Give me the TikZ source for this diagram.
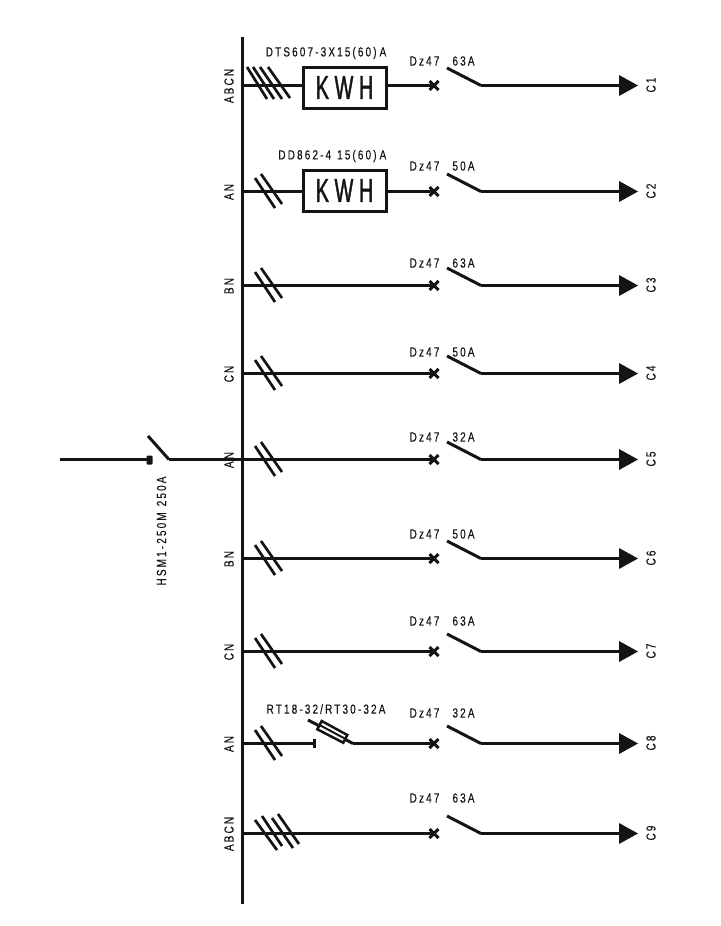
\documentclass[tikz,border=0pt]{standalone}
\usepackage{fontspec}
\setmainfont{Liberation Sans}[FakeStretch=0.76,LetterSpace=16,FakeBold=0.25]
\newfontfamily\kwhfont{Liberation Sans}[FakeStretch=0.6,LetterSpace=17,FakeBold=1.2]
\definecolor{ink}{HTML}{141414}
\tikzset{
  wire/.style={draw=ink,line width=3pt},
  slash/.style={draw=ink,line width=2.7pt},
  lbl/.style={text=ink,inner sep=0pt,font=\fontsize{13.2}{15}\selectfont},
  vlbl/.style={lbl,rotate=90},
  meter/.style={draw=ink,line width=3pt,fill=white,minimum width=83pt,minimum height=41pt,inner sep=0pt,text=ink,font=\kwhfont\fontsize{33}{35}\selectfont},
  tip/.style={fill=ink,draw=none}
}
\begin{document}
\begin{tikzpicture}[x=1pt,y=-1pt]
\useasboundingbox[fill=white] (0,0) rectangle (720,926);
\coordinate (bustop) at (242.5,37);
\coordinate (busbot) at (242.5,904);
\draw[wire] (bustop) -- (busbot);
% rows: index / y / phase label / amp / offset of Dz47 label
\foreach \i/\y/\ph/\amp/\dz in {1/85/ABCN/63A/24,2/191/AN/50A/25,3/285/BN/63A/22,4/373/CN/50A/21,5/459/AN/32A/22,6/558/BN/50A/24,7/651/CN/63A/30,8/743/AN/32A/30,9/833/ABCN/63A/35}{
  \coordinate (b\i) at (242.5,\y+0.5);
  \coordinate (x\i) at (434,\y+0.5);
  \coordinate (h\i) at (481,\y+0.5);
  \coordinate (s\i) at (447,\y-17);
  \coordinate (t\i) at (620,\y+0.5);
  \draw[wire] (s\i) -- (h\i);
  \draw[wire] (h\i) -- (t\i);
  \draw[tip] (619,\y-10) -- (638,\y+0.5) -- (619,\y+11) -- cycle;
  \draw[wire] (429.5,\y-4) -- (438.5,\y+5) (438.5,\y-4) -- (429.5,\y+5);
  \node[lbl] (dz\i) at (424.5,\y-\dz) {Dz47};
  \node[lbl] (amp\i) at (463.5,\y-\dz) {\amp};
  \node[vlbl] (ph\i) at (229,\y+1) {\ph};
  \node[vlbl] (c\i) at (651,\y) {C\i};
}
% double slashes
\foreach \i/\y in {2/191,3/285,4/373,5/459,6/558,7/651,8/743}{
  \draw[slash] (255,\y-13) -- (275,\y+17) (261,\y-17) -- (282,\y+13);
}
% multi slashes
\draw[slash] (247,67) -- (267,99) (253,67) -- (274,99) (260,67) -- (282,99) (268,67) -- (290,98);
\draw[slash] (255,820) -- (277,850) (262,816) -- (282,846) (272,818) -- (293,848) (278,814) -- (299,844);
% meters
\node[meter] (m1) at (344.5,87.5) {KWH\hspace{7pt}};
\node[meter] (m2) at (344.5,190.5) {KWH\hspace{7pt}};
\node[lbl,anchor=east] (md1) at (386.5,53) {DTS607-3X15\hspace{2pt}(60)\hspace{3pt}A};
\node[lbl,anchor=east] (md2) at (386.5,156) {DD862-4\hspace{6pt}15\hspace{2pt}(60)\hspace{3pt}A};
\draw[wire] (b1) -- (m1.west |- b1);
\draw[wire] (m1.east |- x1) -- (x1);
\draw[wire] (b2) -- (m2.west |- b2);
\draw[wire] (m2.east |- x2) -- (x2);
% plain branches
\foreach \i in {3,4,5,6,7,9}{ \draw[wire] (b\i) -- (x\i); }
% fuse row
\coordinate (fa) at (314,743.5);
\coordinate (fb) at (353,743.5);
\coordinate (fc) at (308,720);
\draw[wire] (b8) -- (fa);
\draw[wire] (314.5,739) -- (314.5,748);
\draw[wire] (fc) -- (fb);
\draw[wire] (fb) -- (x8);
\draw[slash,fill=white,line width=2.5pt] (321.7,721) -- (347.3,735) -- (343.3,742.7) -- (317.3,729.3) -- cycle;
\draw[slash,line width=2pt] (319.5,725) -- (345.3,738.8);
\node[lbl] (fl) at (326,709) {RT18-32/RT30-32A};
% incoming
\coordinate (in) at (60,459.5);
\coordinate (qa) at (148,459.5);
\coordinate (qb) at (169,459.5);
\coordinate (qc) at (148,436);
\draw[wire] (in) -- (qa);
\fill[ink,rounded corners=1pt] (146.5,455.5) rectangle (152.5,464.5);
\draw[wire] (qc) -- (qb);
\draw[wire] (qb) -- (b5);
\node[vlbl] (hsm) at (161.5,531) {HSM1-250M\hspace{6pt}250A};
\end{tikzpicture}
\end{document}
